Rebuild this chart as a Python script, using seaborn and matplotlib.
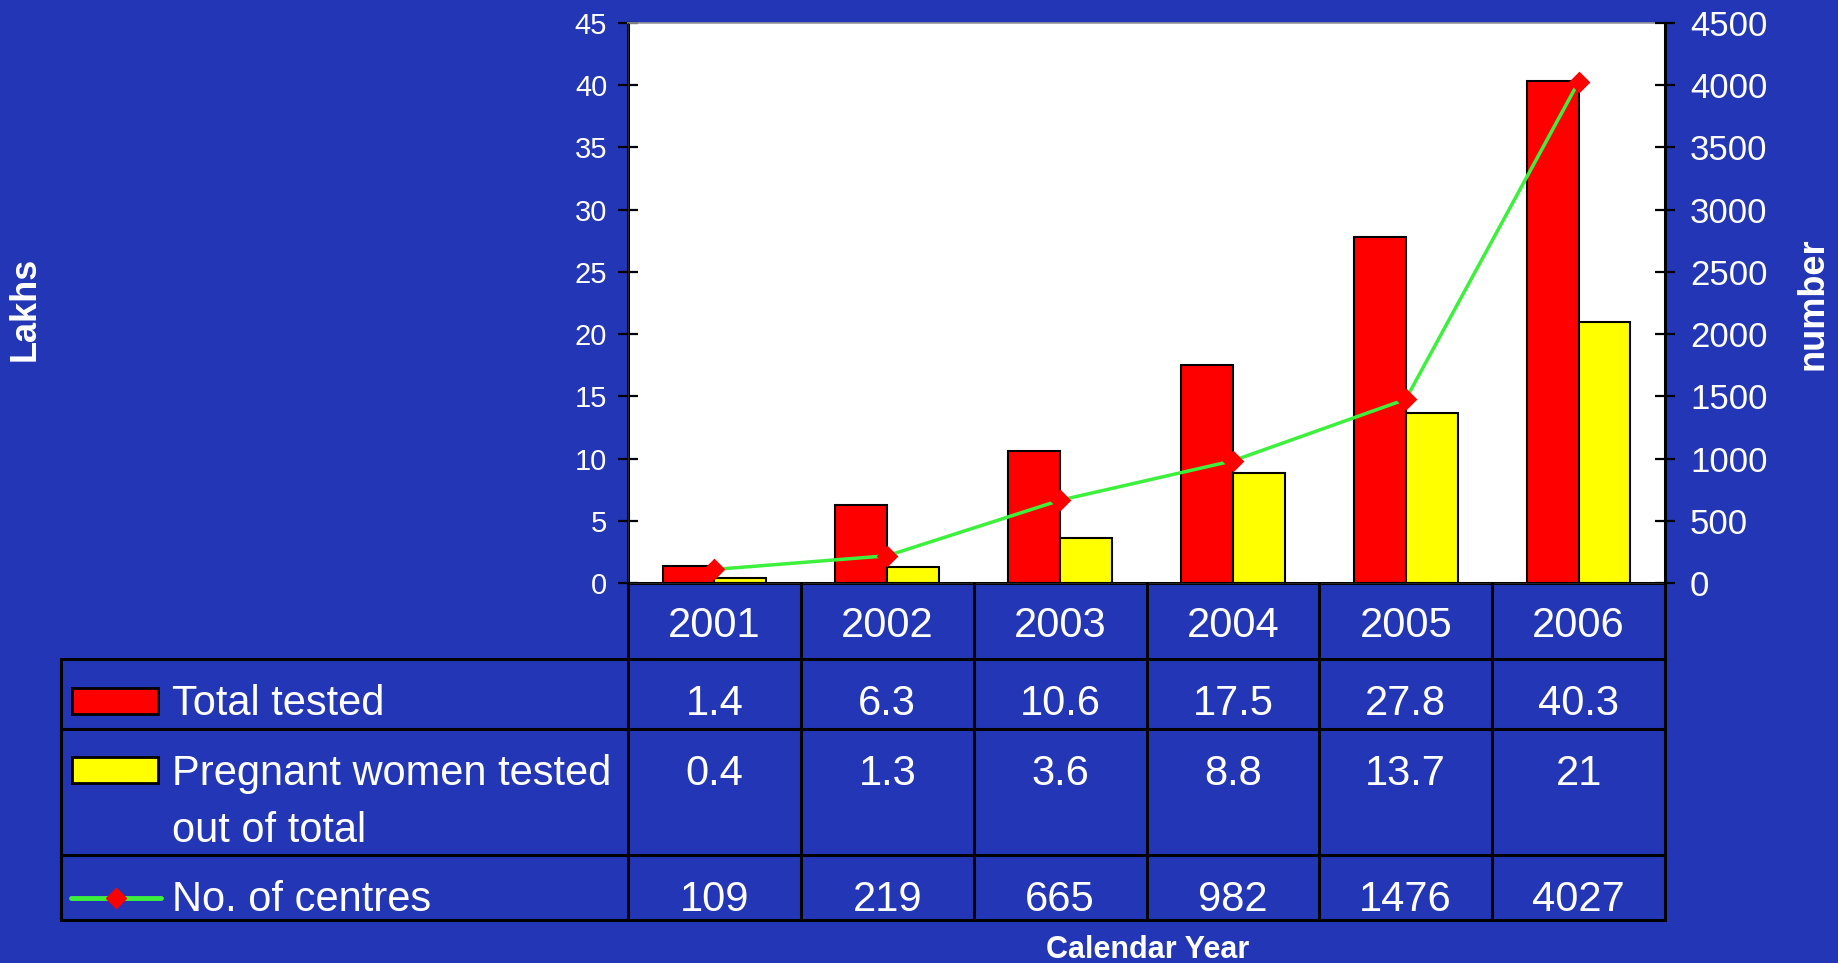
import numpy as np
import pandas as pd
import matplotlib
matplotlib.use('Agg')
import matplotlib.pyplot as plt
import seaborn as sns
from matplotlib.patches import Rectangle
from matplotlib.lines import Line2D

# data
years = ['2001', '2002', '2003', '2004', '2005', '2006']
total_tested = [1.4, 6.3, 10.6, 17.5, 27.8, 40.3]
pregnant_tested = [0.4, 1.3, 3.6, 8.8, 13.7, 21]
centres = [109, 219, 665, 982, 1476, 4027]
row_labels = ['Total tested', 'Pregnant women tested\nout of total', 'No. of centres']

sns.set_style('white')
plt.rcParams['font.family'] = ['Liberation Sans', 'DejaVu Sans']

bg = '#2236b6'
red, yellow, green = '#ff0000', '#ffff00', '#3cf03c'
W, H = 1838, 963

def px(x0, y0, x1, y1):
    return [x0 / W, 1 - y1 / H, (x1 - x0) / W, (y1 - y0) / H]

fig = plt.figure(figsize=(W / 100, H / 100), dpi=100, facecolor=bg)

# bars
ax_l, ax_t, ax_r, ax_b = 628, 23, 1665, 583
ax = fig.add_axes(px(ax_l, ax_t, ax_r, ax_b))
df = pd.DataFrame({'year': years * 2,
                   'series': ['Total tested'] * len(years) + ['Pregnant'] * len(years),
                   'value': total_tested + pregnant_tested})
sns.barplot(data=df, x='year', y='value', hue='series', palette=[red, yellow],
            saturation=1, edgecolor='black', linewidth=1.5, width=0.6,
            legend=False, ax=ax)
ax.set_facecolor('white')
ax.set_ylim(0, 45)
ax.set_yticks(range(0, 46, 5))
ax.set_xticks([])
ax.set_xlabel('')
ax.set_ylabel('')
ax.tick_params(axis='y', direction='inout', length=14, width=1.6, color='black',
               labelcolor='white', labelsize=21, pad=8)
for s in ['left', 'bottom']:
    ax.spines[s].set_color('black')
    ax.spines[s].set_linewidth(2.2)
ax.spines['top'].set_color('#999999')
ax.spines['top'].set_linewidth(1.2)

# line on second axis
ax2 = ax.twinx()
sns.pointplot(x=years, y=centres, ax=ax2, color=green, markers='D',
              errorbar=None, linewidth=2.5, markersize=9)
for ln in ax2.lines:
    ln.set_markerfacecolor(red)
    ln.set_markeredgecolor(red)
ax2.set_ylim(0, 4500)
ax2.set_yticks(range(0, 4501, 500))
ax2.set_ylabel('')
ax2.set_xlabel('')
ax2.tick_params(axis='y', direction='inout', length=14, width=1.6, color='black',
                labelcolor='white', labelsize=25, pad=11)
ax2.spines['right'].set_color('black')
ax2.spines['right'].set_linewidth(2.2)
ax2.spines['top'].set_visible(False)
ax.set_xlim(-0.5, len(years) - 0.5)

fig.text(25 / W, 1 - 309 / H, 'Lakhs', rotation=90, color='white', fontsize=26,
         fontweight='bold', ha='center', va='center')
fig.text(1813 / W, 1 - 304 / H, 'number', rotation=90, color='white', fontsize=26,
         fontweight='bold', ha='center', va='center')

# data table under the chart
tax = fig.add_axes([0, 0, 1, 1])
tax.set_xlim(0, W)
tax.set_ylim(H, 0)
tax.axis('off')

tbl_left = 61
y_r1, y_r2, y_r3, y_bot = 659, 729, 855, 920
x_edges = ax_l + (ax_r - ax_l) * np.arange(len(years) + 1) / len(years)
lw = 2.2
for y in [y_r1, y_r2, y_r3, y_bot]:
    tax.plot([tbl_left, ax_r], [y, y], color='black', lw=lw, solid_capstyle='projecting')
tax.plot([tbl_left, tbl_left], [y_r1, y_bot], color='black', lw=lw)
for x in x_edges:
    tax.plot([x, x], [ax_b, y_bot], color='black', lw=lw)

tkw = dict(color='white', fontsize=30, va='baseline')
x_mid = (x_edges[:-1] + x_edges[1:]) / 2
for i, yr in enumerate(years):
    tax.text(x_mid[i], 637, yr, ha='center', **tkw)
    tax.text(x_mid[i], 715, f'{total_tested[i]:g}', ha='center', **tkw)
    tax.text(x_mid[i], 785, f'{pregnant_tested[i]:g}', ha='center', **tkw)
    tax.text(x_mid[i], 911, f'{centres[i]:g}', ha='center', **tkw)

tax.add_patch(Rectangle((72, 688), 86, 26, facecolor=red, edgecolor='black', lw=2))
tax.add_patch(Rectangle((72, 757), 86, 26, facecolor=yellow, edgecolor='black', lw=2))
tax.add_line(Line2D([71, 161], [898, 898], color=green, lw=3.5))
tax.add_line(Line2D([116], [898], marker='D', color=red, markersize=10))

tax.text(172, 715, row_labels[0], ha='left', **tkw)
lab = row_labels[1].split('\n')
tax.text(172, 785, lab[0], ha='left', **tkw)
tax.text(172, 842, lab[1], ha='left', **tkw)
tax.text(172, 911, row_labels[2], ha='left', **tkw)

fig.text(1148 / W, 1 - 950 / H, 'Calendar Year', color='white', fontsize=22,
         fontweight='bold', ha='center', va='center')

fig.savefig('out.png', dpi=100, facecolor=bg)
